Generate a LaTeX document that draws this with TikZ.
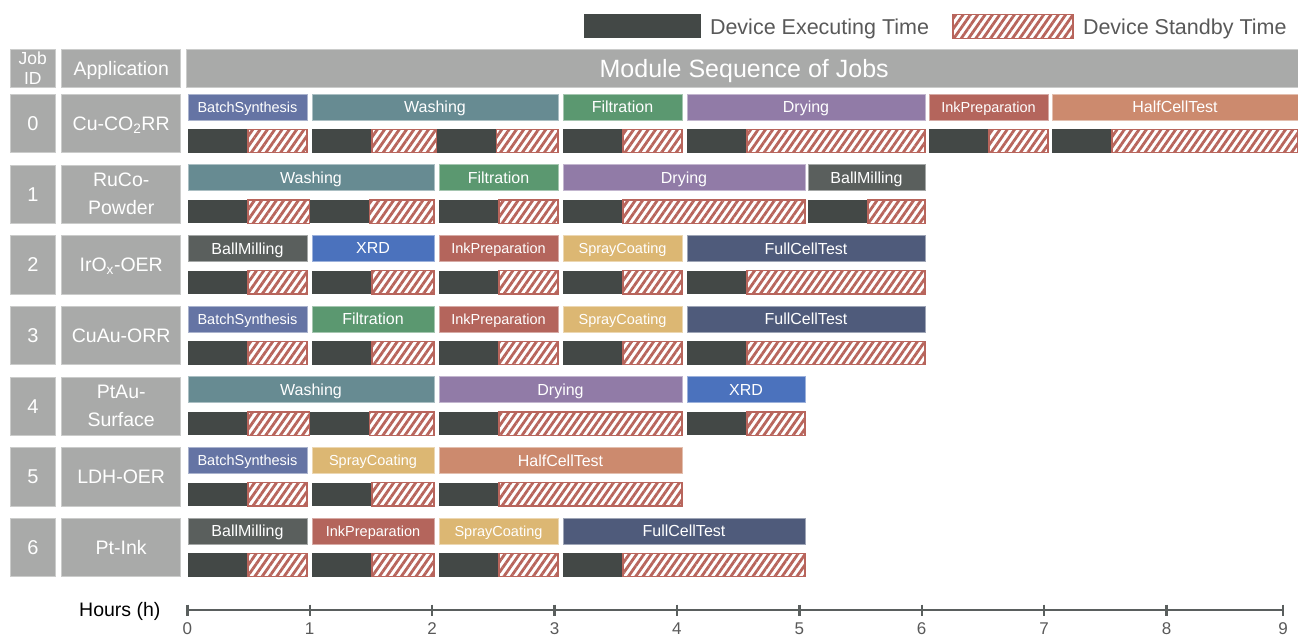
\documentclass[tikz,border=0pt]{standalone}
\usepackage{fontspec}
\setmainfont{Liberation Sans}
\usetikzlibrary{patterns.meta}

% palette
\definecolor{hdr}{HTML}{A9AAA9}
\definecolor{execc}{HTML}{434846}
\definecolor{hatchc}{HTML}{B8655C}
\definecolor{cBatch}{HTML}{6574A4}
\definecolor{cWash}{HTML}{678B92}
\definecolor{cFilt}{HTML}{5B9870}
\definecolor{cDry}{HTML}{917BA7}
\definecolor{cInk}{HTML}{B4655C}
\definecolor{cHalf}{HTML}{CC8A6E}
\definecolor{cBall}{HTML}{5A5F5D}
\definecolor{cXRD}{HTML}{4B72BD}
\definecolor{cSpray}{HTML}{DCB773}
\definecolor{cFull}{HTML}{4F5B7B}
\definecolor{axisc}{HTML}{5A5F5E}
\definecolor{txtgrey}{HTML}{595959}

\newcommand\fs[1]{\fontsize{#1}{#1}\selectfont}
\newcommand\sm{\fs{14.5}}

\tikzset{
  every node/.style={inner sep=0pt, outer sep=0pt},
  hdrbox/.style={fill=hdr, draw=hdr!60!white, line width=0.8pt, text=white,
    anchor=north west, align=center},
  onerow/.style={text depth=0pt},
  modbar/.style={anchor=north west, minimum height=25.7pt, text=white,
    font=\fs{16}, line width=1pt, text depth=0pt},
  execseg/.style={fill=execc},
  idleseg/.style={draw=hatchc, line width=1.4pt, preaction={fill=white},
    pattern={Lines[angle=55,distance=6pt,line width=2.8pt]}, pattern color=hatchc},
  ticklabel/.style={text=txtgrey, font=\fs{17}},
}

% left / right edges of the hour slots
\def\slotstart{{188,312,439,563,687,808,929,1052,1175,1298}}
\def\slotend{{183,307,434,558,682,805,925,1048,1171,1298}}

% module bar: row, first hour, last hour, colour, label
\newcommand\modbar[5]{%
  \pgfmathsetmacro\mYt{94.3+70.67*#1}%
  \pgfmathsetmacro\mXa{\slotstart[#2]}%
  \pgfmathsetmacro\mXb{\slotend[#3]}%
  \pgfmathsetmacro\mBw{\mXb-\mXa}%
  \node[modbar, fill=#4, draw=#4!55!white, minimum width=\mBw pt] (bar-#1-#2) at (\mXa,\mYt) {#5};%
}
% device segment between two x positions: executing part, then standby part
\newcommand\devxy[3]{%
  \pgfmathsetmacro\dY{94.3+70.67*#1+35}%
  \pgfmathsetmacro\dXm{#2+60}%
  \fill[execseg] (#2,\dY) rectangle (\dXm,\dY+23.4);%
  \path[idleseg] (\dXm,\dY) rectangle (#3,\dY+23.4);%
}
% one device run covering a whole module
\newcommand\devseg[3]{%
  \pgfmathsetmacro\sA{\slotstart[#2]}%
  \pgfmathsetmacro\sB{\slotend[#3]}%
  \devxy{#1}{\sA}{\sB}%
}
% two consecutive device runs inside one module
\newcommand\devpair[4]{%
  \pgfmathsetmacro\pA{\slotstart[#2]}%
  \pgfmathsetmacro\pS{\slotstart[#3]}%
  \pgfmathsetmacro\pE{\slotend[#3]}%
  \pgfmathsetmacro\pM{(\pS+\pE)/2}%
  \pgfmathsetmacro\pB{\slotend[#4]}%
  \let\pMM\pM \let\pBB\pB
  \devxy{#1}{\pA}{\pMM}%
  \devxy{#1}{\pMM}{\pBB}%
}
% job row header: row, id, application
\newcommand\jobrow[3]{%
  \pgfmathsetmacro\jY{94.3+70.67*#1}%
  \node[hdrbox, onerow, minimum width=45.7pt, minimum height=58.4pt, font=\fs{20}] (id-#1) at (10,\jY) {#2};%
  \node[hdrbox, onerow, minimum width=119pt, minimum height=58.4pt, font=\fontsize{19.5}{28}\selectfont] (app-#1) at (61.7,\jY) {#3};%
}

\begin{document}
\begin{tikzpicture}[x={(1pt,0pt)}, y={(0pt,-1pt)}]
\useasboundingbox (0,0) rectangle (1298,637);

% legend
\node[fill=execc, anchor=north west, minimum width=117pt, minimum height=24pt] (legexec) at (584,14.3) {};
\node[onerow, anchor=west, text=txtgrey, font=\fs{21.5}] (legexect) at (710,26.5) {Device Executing Time};
\node[idleseg, anchor=north west, minimum width=120pt, minimum height=24pt] (legidle) at (953,14.3) {};
\node[onerow, anchor=west, text=txtgrey, font=\fs{21.5}] (legidlet) at (1083,26.5) {Device Standby Time};

% header row
\node[hdrbox, onerow, minimum width=45.7pt, minimum height=38pt, font=\fontsize{17.5}{20}\selectfont] (hid) at (10,49.3) {Job\\ID};
\node[hdrbox, onerow, minimum width=119pt, minimum height=38pt, font=\fs{19.5}] (happ) at (61.7,49.3) {Application};
\node[hdrbox, onerow, minimum width=1115pt, minimum height=38pt, font=\fs{25}] (hseq) at (186.7,49.3) {Module Sequence of Jobs};

% job rows
\jobrow{0}{0}{Cu-CO\textsubscript{2}RR}
\jobrow{1}{1}{RuCo-\\Powder}
\jobrow{2}{2}{IrO\textsubscript{x}-OER}
\jobrow{3}{3}{CuAu-ORR}
\jobrow{4}{4}{PtAu-\\Surface}
\jobrow{5}{5}{LDH-OER}
\jobrow{6}{6}{Pt-Ink}

% job 0
\modbar{0}{0}{1}{cBatch}{\sm BatchSynthesis}
\modbar{0}{1}{3}{cWash}{Washing}
\modbar{0}{3}{4}{cFilt}{Filtration}
\modbar{0}{4}{6}{cDry}{Drying}
\modbar{0}{6}{7}{cInk}{\sm InkPreparation}
\modbar{0}{7}{9}{cHalf}{HalfCellTest}
\devseg{0}{0}{1}
\devpair{0}{1}{2}{3}
\devseg{0}{3}{4}
\devseg{0}{4}{6}
\devseg{0}{6}{7}
\devseg{0}{7}{9}

% job 1
\modbar{1}{0}{2}{cWash}{Washing}
\modbar{1}{2}{3}{cFilt}{Filtration}
\modbar{1}{3}{5}{cDry}{Drying}
\modbar{1}{5}{6}{cBall}{BallMilling}
\devpair{1}{0}{1}{2}
\devseg{1}{2}{3}
\devseg{1}{3}{5}
\devseg{1}{5}{6}

% job 2
\modbar{2}{0}{1}{cBall}{BallMilling}
\modbar{2}{1}{2}{cXRD}{XRD}
\modbar{2}{2}{3}{cInk}{\sm InkPreparation}
\modbar{2}{3}{4}{cSpray}{\sm SprayCoating}
\modbar{2}{4}{6}{cFull}{FullCellTest}
\devseg{2}{0}{1}
\devseg{2}{1}{2}
\devseg{2}{2}{3}
\devseg{2}{3}{4}
\devseg{2}{4}{6}

% job 3
\modbar{3}{0}{1}{cBatch}{\sm BatchSynthesis}
\modbar{3}{1}{2}{cFilt}{Filtration}
\modbar{3}{2}{3}{cInk}{\sm InkPreparation}
\modbar{3}{3}{4}{cSpray}{\sm SprayCoating}
\modbar{3}{4}{6}{cFull}{FullCellTest}
\devseg{3}{0}{1}
\devseg{3}{1}{2}
\devseg{3}{2}{3}
\devseg{3}{3}{4}
\devseg{3}{4}{6}

% job 4
\modbar{4}{0}{2}{cWash}{Washing}
\modbar{4}{2}{4}{cDry}{Drying}
\modbar{4}{4}{5}{cXRD}{XRD}
\devpair{4}{0}{1}{2}
\devseg{4}{2}{4}
\devseg{4}{4}{5}

% job 5
\modbar{5}{0}{1}{cBatch}{\sm BatchSynthesis}
\modbar{5}{1}{2}{cSpray}{\sm SprayCoating}
\modbar{5}{2}{4}{cHalf}{HalfCellTest}
\devseg{5}{0}{1}
\devseg{5}{1}{2}
\devseg{5}{2}{4}

% job 6
\modbar{6}{0}{1}{cBall}{BallMilling}
\modbar{6}{1}{2}{cInk}{\sm InkPreparation}
\modbar{6}{2}{3}{cSpray}{\sm SprayCoating}
\modbar{6}{3}{5}{cFull}{FullCellTest}
\devseg{6}{0}{1}
\devseg{6}{1}{2}
\devseg{6}{2}{3}
\devseg{6}{3}{5}

% time axis
\node[anchor=east, font=\fs{19.5}] (hours) at (160.5,611) {Hours (h)};
\coordinate (ax0) at (187.3,610);
\coordinate (ax9) at (1283,610);
\draw[axisc, line width=2.4pt] (ax0) -- (ax9);
\foreach \i in {0,...,8} {
  \draw[axisc, line width=2.4pt] (187.3+122.4*\i,604.5) -- (187.3+122.4*\i,615.5);
  \node[ticklabel] (tick-\i) at (187.3+122.4*\i,629) {\i};
}
\draw[axisc, line width=2.4pt] (1283,604.5) -- (1283,615.5);
\node[ticklabel] (tick-9) at (1283,629) {9};
\end{tikzpicture}
\end{document}
